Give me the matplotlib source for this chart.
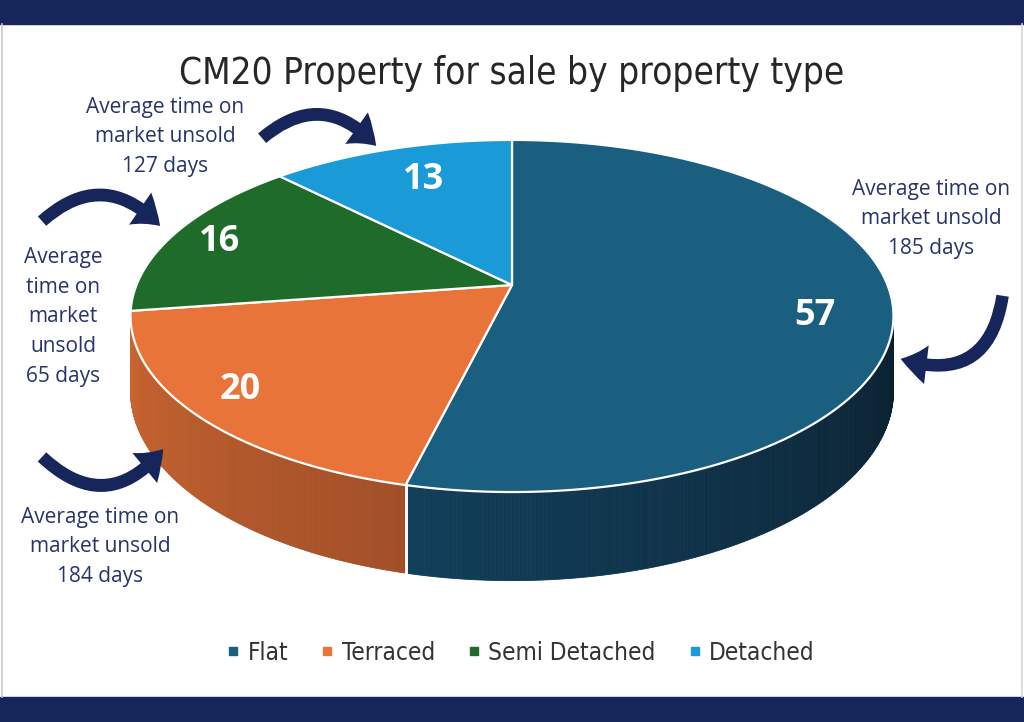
import numpy as np
import matplotlib
matplotlib.use('Agg')
import matplotlib.pyplot as plt
from matplotlib.patches import Polygon, FancyArrowPatch, Rectangle
from matplotlib.lines import Line2D
from matplotlib.colors import to_rgb
from matplotlib import font_manager as fm

# ---------------- data ----------------
categories = ['Flat', 'Terraced', 'Semi Detached', 'Detached']
values = [57, 20, 16, 13]
days_unsold = [185, 184, 65, 127]
top_colors = ['#1a5e80', '#e8743a', '#1f6b29', '#1a9ad6']
side_light = ['#123f5a', '#cc6630', '#185a22', '#167fb0']
side_dark = ['#0a1f2e', '#a24f28', '#124a1b', '#126a93']
title = 'CM20 Property for sale by property type'

NAVY = '#16265a'
TXT = '#27336a'

names = {f.name for f in fm.fontManager.ttflist}
if 'Liberation Sans Narrow' in names:
    COND = dict(family='Liberation Sans Narrow')
else:
    COND = dict(family='DejaVu Sans', stretch='condensed')

# ---------------- geometry of the 3D pie ----------------
CX, CY = 512, 285
R, H, K = 375.5, 170.6, 0.176
D = 73


def proj(t, drop=0.0):
    z = np.sin(t)
    f = 1.0 / (1.0 + K * z)
    return CX + R * np.cos(t) * f, CY - H * z * f + drop * f


fig = plt.figure(figsize=(10.24, 7.22), dpi=100)
ax = fig.add_axes([0, 0, 1, 1])
ax.set_xlim(0, 1024)
ax.set_ylim(722, 0)
ax.axis('off')

# frame and navy bands
ax.add_patch(Rectangle((0, 0), 1024, 24, color=NAVY, zorder=1))
ax.add_patch(Rectangle((0, 697), 1024, 25, color=NAVY, zorder=1))
ax.plot([1.5, 1.5], [24, 697], color='#c8c8c8', lw=1.2, zorder=1)
ax.plot([1021.5, 1021.5], [24, 697], color='#d8d8d8', lw=1.2, zorder=1)

vals = np.array(values, dtype=float)
cum = np.concatenate([[0], np.cumsum(vals)]) / vals.sum()
a_start = np.pi / 2 - 2 * np.pi * cum[:-1]
a_end = np.pi / 2 - 2 * np.pi * cum[1:]

# side walls (front-facing part only)
vis_lo = -np.pi + np.arcsin(K)
vis_hi = -np.arcsin(K)
for i in range(len(values)):
    lo = max(a_end[i], vis_lo)
    hi = min(a_start[i], vis_hi)
    if hi <= lo:
        continue
    n = max(2, int((hi - lo) / np.radians(0.5)))
    ts = np.linspace(lo, hi, n + 1)
    c0 = np.array(to_rgb(side_light[i]))
    c1 = np.array(to_rgb(side_dark[i]))
    for j in range(n):
        t0, t1 = ts[j], ts[j + 1]
        frac = np.clip(((t0 + t1) / 2 - lo) / (hi - lo), 0, 1)
        col = c0 + (c1 - c0) * frac
        x0, y0 = proj(t0)
        x1, y1 = proj(t1)
        x2, y2 = proj(t1, D)
        x3, y3 = proj(t0, D)
        ax.add_patch(Polygon([[x0, y0], [x1, y1], [x2, y2], [x3, y3]],
                             closed=True, facecolor=col, edgecolor=col,
                             lw=0.6, zorder=2))
    for tb in (a_start[i], a_end[i]):
        if vis_lo < tb < vis_hi:
            xa, ya = proj(tb)
            xb, yb = proj(tb, D)
            ax.plot([xa, xb], [ya, yb], color='white', lw=1.8, zorder=3)

# top faces
for i in range(len(values)):
    ts = np.linspace(a_start[i], a_end[i], 200)
    xs, ys = proj(ts)
    pts = np.column_stack([np.concatenate([[CX], xs]), np.concatenate([[CY], ys])])
    ax.add_patch(Polygon(pts, closed=True, facecolor=top_colors[i],
                         edgecolor='white', lw=1.6, joinstyle='round', zorder=4))

# value labels
label_xy = [(815, 316), (240, 390), (220, 242), (424, 180)]
for v, (lx, ly) in zip(values, label_xy):
    ax.text(lx, ly, str(v), ha='center', va='center', color='white',
            fontsize=26, fontweight='bold', family='Open Sans', zorder=6)

# annotations
ann_text = [
    f'Average time on\nmarket unsold\n{days_unsold[0]} days',
    f'Average time on\nmarket unsold\n{days_unsold[1]} days',
    f'Average\ntime on\nmarket\nunsold\n{days_unsold[2]} days',
    f'Average time on\nmarket unsold\n{days_unsold[3]} days',
]
ann_xy = [(931, 219), (100, 547), (63, 317), (165, 137)]
for s, (tx, ty) in zip(ann_text, ann_xy):
    ax.text(tx, ty, s, ha='center', va='center', color=TXT, fontsize=15,
            family='Open Sans', linespacing=1.55, zorder=6)

# arrows (tail -> tip, curvature)
arrows = [
    ((1003, 293), (898, 358), -0.6),
    ((40, 455), (165, 447), 0.55),
    ((40, 223), (162, 228), -0.5),
    ((260, 140), (378, 148), -0.5),
]
for (p0, p1, rad) in arrows:
    ar = FancyArrowPatch(p0, p1, connectionstyle=f'arc3,rad={rad}',
                         arrowstyle='simple,head_length=19,head_width=28,tail_width=9',
                         mutation_scale=1, color=NAVY, lw=0, zorder=6)
    ax.add_patch(ar)

# title
ax.text(512, 73, title, ha='center', va='center', color='#262626',
        fontsize=26.5, zorder=6, **COND)

# legend
handles = [Line2D([], [], marker='s', ls='none', markersize=6,
                  markerfacecolor=c, markeredgecolor=c) for c in top_colors]
leg = fig.legend(handles, categories, loc='center', ncol=4,
                 bbox_to_anchor=(0.508, 1 - 653 / 722), frameon=False,
                 prop=fm.FontProperties(size=17.5, **COND),
                 handlelength=0.6, handletextpad=0.3, columnspacing=1.3)
for t in leg.get_texts():
    t.set_color('#333333')

fig.savefig('out.png', dpi=100, facecolor='white')
